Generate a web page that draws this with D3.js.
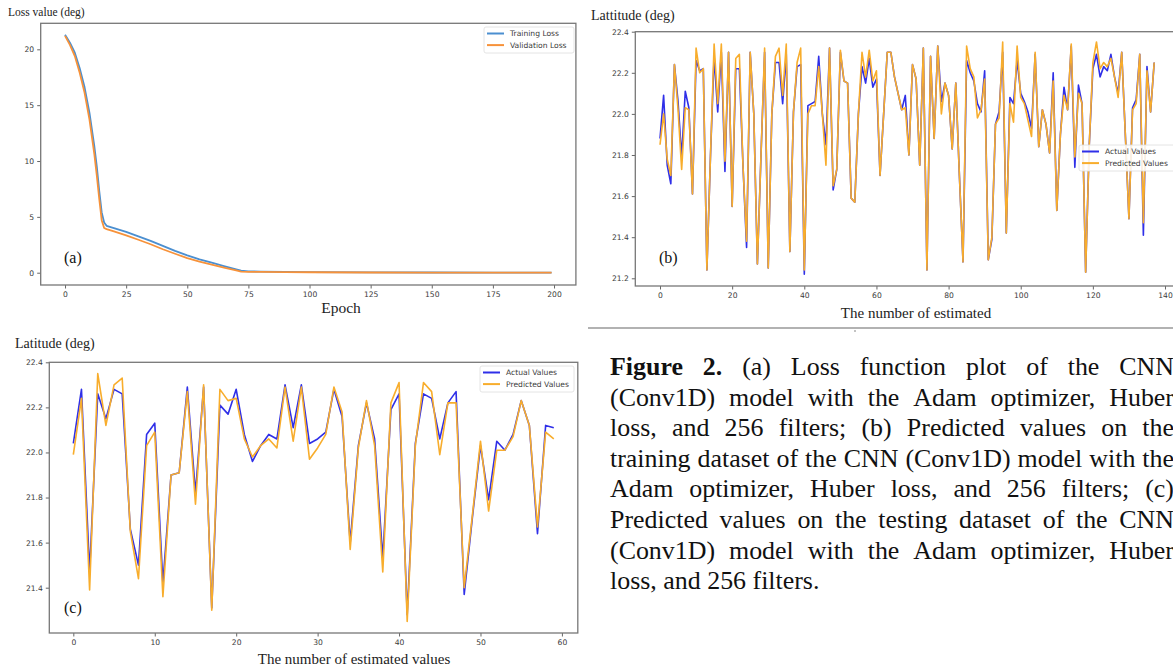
<!DOCTYPE html>
<html><head><meta charset="utf-8">
<script src="https://cdn.jsdelivr.net/npm/d3@7"></script>
<style>body{margin:0;background:#fff;} svg{display:block;}</style>
</head><body><svg id="c" width="1173" height="668"></svg>
<script>
// ---------- DATA ----------
// Panel (a): loss curves (epochs)
const lossEpochs = [0,2,4,6,8,10,12,13,14,15,16,17,20,25,30,35,40,45,50,55,60,65,70,72,75,80,90,100,125,150,175,199];
const trainLoss  = [21.3,20.6,19.7,18.3,16.6,14.3,11.3,9.5,7.3,5.4,4.5,4.2,4.0,3.65,3.25,2.85,2.4,1.95,1.55,1.2,0.9,0.6,0.3,0.18,0.12,0.1,0.08,0.05,0.03,0.02,0.01,0.01];
const valLoss    = [21.2,20.4,19.4,17.9,16.1,13.7,10.6,8.7,6.6,4.7,4.0,3.9,3.7,3.35,2.95,2.55,2.1,1.7,1.3,1.0,0.72,0.45,0.2,0.1,0.08,0.07,0.05,0.04,0.02,0.01,0.01,0.0];
const aXTicks = [0,25,50,75,100,125,150,175,200];
const aYTicks = [0,5,10,15,20];

// Panel (b): training set, actual vs predicted latitude
const bActual = [21.88,22.09,21.75,21.66,22.24,22.06,21.79,22.11,22.03,21.61,22.26,22.21,22.22,21.24,21.80,22.28,22.01,22.30,21.72,22.30,21.55,22.22,22.22,21.75,21.35,22.30,22.00,21.27,21.80,22.30,21.25,22.00,22.25,22.25,22.05,22.29,21.33,22.01,22.23,22.24,21.22,22.04,22.05,22.06,22.28,22.00,21.85,22.32,21.63,21.73,22.30,22.16,22.15,21.59,21.57,22.00,22.23,22.15,22.27,22.13,22.17,21.70,22.00,22.30,22.30,22.18,22.10,22.02,22.09,21.80,22.24,22.17,21.75,22.32,21.24,22.28,21.88,22.33,22.06,22.15,22.09,21.83,22.15,21.70,21.28,22.26,22.20,22.16,22.05,22.01,22.21,21.29,21.39,21.95,22.01,22.30,21.42,22.08,22.05,22.26,22.10,22.06,22.01,21.93,22.29,21.84,22.02,21.95,21.81,22.20,21.53,21.90,22.13,22.02,22.33,21.74,22.14,22.05,21.23,21.85,22.22,22.29,22.18,22.23,22.21,22.29,22.18,22.10,22.30,21.90,21.49,22.03,22.07,22.29,21.41,22.23,22.01,22.25];
const bPred   = [21.85,22.00,21.78,21.70,22.24,22.02,21.73,22.03,22.02,21.61,22.32,22.20,22.22,21.24,21.80,22.34,22.05,22.34,21.77,22.30,21.55,22.27,22.29,21.75,21.38,22.30,22.00,21.27,21.80,22.32,21.25,22.00,22.28,22.32,22.09,22.34,21.33,22.01,22.25,22.32,21.24,22.00,22.04,22.04,22.23,22.00,21.75,22.32,21.65,21.73,22.31,22.16,22.15,21.59,21.57,22.00,22.30,22.18,22.31,22.16,22.21,21.70,22.00,22.30,22.30,22.18,22.10,22.02,22.03,21.80,22.24,22.17,21.75,22.32,21.24,22.28,21.88,22.33,22.00,22.15,22.09,21.83,22.15,21.70,21.28,22.33,22.22,22.18,21.98,22.02,22.17,21.29,21.40,21.95,21.98,22.35,21.42,22.05,21.96,22.33,22.08,22.05,21.97,21.89,22.30,21.84,22.02,21.95,21.81,22.16,21.53,21.90,22.09,22.02,22.34,21.79,22.10,22.05,21.23,21.85,22.25,22.35,22.22,22.25,22.23,22.27,22.18,22.08,22.30,21.90,21.49,22.02,22.05,22.29,21.47,22.21,22.01,22.25];
const bXTicks = [0,20,40,60,80,100,120,140];
const bYTicks = [21.2,21.4,21.6,21.8,22.0,22.2,22.4];

// Panel (c): testing set, actual vs predicted latitude
const cActual = [22.04,22.28,21.47,22.26,22.15,22.28,22.26,21.66,21.50,22.08,22.13,21.42,21.90,21.91,22.29,21.82,22.29,21.31,22.21,22.17,22.28,22.08,21.96,22.03,22.08,22.06,22.30,22.11,22.30,22.04,22.06,22.09,22.28,22.16,21.60,22.03,22.22,22.06,21.53,22.19,22.26,21.28,22.04,22.26,22.24,22.06,22.22,22.27,21.37,21.71,22.03,21.79,22.05,22.01,22.08,22.23,22.12,21.64,22.12,22.11];
const cPred   = [21.99,22.24,21.39,22.35,22.12,22.30,22.33,21.65,21.44,22.03,22.09,21.36,21.90,21.91,22.27,21.77,22.30,21.30,22.28,22.23,22.24,22.06,21.98,22.03,22.06,22.02,22.29,22.05,22.29,21.97,22.02,22.08,22.29,22.18,21.57,22.02,22.23,22.03,21.47,22.22,22.31,21.25,22.03,22.31,22.27,21.99,22.22,22.22,21.40,21.72,22.05,21.74,22.01,22.01,22.07,22.23,22.12,21.67,22.09,22.06];
const cXTicks = [0,10,20,30,40,50,60];
const cYTicks = [21.4,21.6,21.8,22.0,22.2,22.4];

const captionLines = [
  "Figure 2. (a) Loss function plot of the CNN",
  "(Conv1D) model with the Adam optimizer, Huber",
  "loss, and 256 filters; (b) Predicted values on the",
  "training dataset of the CNN (Conv1D) model with the",
  "Adam optimizer, Huber loss, and 256 filters; (c)",
  "Predicted values on the testing dataset of the CNN",
  "(Conv1D) model with the Adam optimizer, Huber",
  "loss, and 256 filters."
];

// ---------- DRAWING ----------
const svg = d3.select("#c");
const SERIF = "'Liberation Serif','Times New Roman',serif";
const SANS = "'DejaVu Sans',sans-serif";

function panel(p) {
  const x = d3.scaleLinear().domain(p.xDomain).range([p.left, p.right]);
  const y = d3.scaleLinear().domain(p.yDomain).range([p.bottom, p.top]);
  const g = svg.append("g");
  const styleAxis = sel => {
    sel.select(".domain").remove();
    sel.selectAll("line").attr("stroke", "#555").attr("stroke-width", 0.9);
    sel.selectAll("text").attr("font-family", SANS).attr("font-size", 7.6).attr("fill", "#3a3a3a");
  };
  g.append("g").attr("transform", `translate(0,${p.bottom})`)
    .call(d3.axisBottom(x).tickValues(p.xTicks).tickSize(3.5).tickPadding(3).tickFormat(d3.format("d")))
    .call(styleAxis);
  g.append("g").attr("transform", `translate(${p.left},0)`)
    .call(d3.axisLeft(y).tickValues(p.yTicks).tickSize(3.5).tickPadding(3).tickFormat(p.yFmt))
    .call(styleAxis);
  g.append("rect").attr("x", p.left).attr("y", p.top)
    .attr("width", p.right - p.left).attr("height", p.bottom - p.top)
    .attr("fill", "none").attr("stroke", "#777").attr("stroke-width", 1.3);
  p.series.forEach(s => {
    g.append("path").datum(s.values)
      .attr("fill", "none").attr("stroke", s.color).attr("stroke-width", s.width)
      .attr("stroke-linejoin", "round")
      .attr("d", d3.line().x((d, i) => x(s.xs[i])).y(d => y(d)));
  });
  // legend
  const L = p.legend;
  const lg = g.append("g");
  lg.append("rect").attr("x", L.x).attr("y", L.y).attr("width", L.w).attr("height", L.h)
    .attr("rx", 2).attr("fill", "#fff").attr("fill-opacity", 0.85).attr("stroke", "#ddd").attr("stroke-width", 0.8);
  p.series.forEach((s, i) => {
    const yy = L.y + 6.5 + i * 11.6;
    lg.append("line").attr("x1", L.x + 3).attr("x2", L.x + 20).attr("y1", yy).attr("y2", yy)
      .attr("stroke", s.color).attr("stroke-width", 2);
    lg.append("text").attr("x", L.x + 26).attr("y", yy + 2.8).text(s.name)
      .attr("font-family", SANS).attr("font-size", 7.6).attr("fill", "#3a3a3a");
  });
  // panel letter
  g.append("text").attr("x", p.tag[0]).attr("y", p.tag[1]).text(p.tag[2])
    .attr("font-family", SERIF).attr("font-size", 16).attr("fill", "#111");
  // y title
  g.append("text").attr("x", p.ytitle[0]).attr("y", p.ytitle[1]).text(p.ytitle[2])
    .attr("font-family", SERIF).attr("font-size", p.ytitle[3]).attr("fill", "#222");
  // x title
  g.append("text").attr("x", p.xtitle[0]).attr("y", p.xtitle[1]).text(p.xtitle[2])
    .attr("font-family", SERIF).attr("font-size", p.xtitle[3]).attr("fill", "#222")
    .attr("text-anchor", "middle");
}

const idx = n => d3.range(n);

panel({
  left: 40.7, right: 575.9, top: 23.3, bottom: 285,
  xDomain: [-9.95, 208.95], yDomain: [-1.10, 22.33],
  xTicks: aXTicks, yTicks: aYTicks, yFmt: d3.format("d"),
  series: [
    {name: "Training Loss", xs: lossEpochs, values: trainLoss, color: "#4b8fd0", width: 1.8},
    {name: "Validation Loss", xs: lossEpochs, values: valLoss, color: "#f7923a", width: 1.8}
  ],
  legend: {x: 484, y: 27, w: 90, h: 26},
  tag: [64, 263, "(a)"],
  ytitle: [8, 16, "Loss value (deg)", 11.5],
  xtitle: [341, 313, "Epoch", 15.5]
});

panel({
  left: 635.3, right: 1178.9, top: 31.7, bottom: 286,
  xDomain: [-6.85, 143.85], yDomain: [21.1625, 22.4],
  xTicks: bXTicks, yTicks: bYTicks, yFmt: d3.format(".1f"),
  series: [
    {name: "Actual Values", xs: idx(bActual.length), values: bActual, color: "#2f2fe8", width: 1.6},
    {name: "Predicted Values", xs: idx(bPred.length), values: bPred, color: "#f8ad2c", width: 1.6}
  ],
  legend: {x: 1079, y: 145, w: 100, h: 26},
  tag: [659, 263, "(b)"],
  ytitle: [591, 20, "Lattitude (deg)", 14],
  xtitle: [916, 318, "The number of estimated", 15]
});

panel({
  left: 49.3, right: 577.8, top: 362.3, bottom: 633,
  xDomain: [-2.95, 61.95], yDomain: [21.199, 22.4],
  xTicks: cXTicks, yTicks: cYTicks, yFmt: d3.format(".1f"),
  series: [
    {name: "Actual Values", xs: idx(cActual.length), values: cActual, color: "#2f2fe8", width: 1.6},
    {name: "Predicted Values", xs: idx(cPred.length), values: cPred, color: "#f8ad2c", width: 1.6}
  ],
  legend: {x: 480, y: 366, w: 94, h: 26},
  tag: [64, 613, "(c)"],
  ytitle: [15, 348, "Latitude (deg)", 14],
  xtitle: [354, 664, "The number of estimated values", 15]
});

// separator line under panel (b)
svg.append("line").attr("x1", 588).attr("x2", 1173).attr("y1", 328).attr("y2", 328)
  .attr("stroke", "#999").attr("stroke-width", 1.5);
svg.append("circle").attr("cx", 855).attr("cy", 331).attr("r", 0.8).attr("fill", "#777");

// ---------- CAPTION (justified) ----------
const capLeft = 610, capRight = 1174;
const meas = svg.append("text").attr("font-family", SERIF).attr("x", -1000).attr("y", -1000);
function w(txt, size, bold) {
  meas.attr("font-size", size).attr("font-weight", bold ? "bold" : "normal").text(txt);
  return meas.node().getComputedTextLength();
}
// choose size so that the tightest line (line 4) fits its natural width
let fs = 20;
const natural = w(captionLines[3], fs, false);
fs = fs * 560 / natural;
const spaceW = w("a b", fs, false) - w("ab", fs, false);
const cap = svg.append("g");
captionLines.forEach((line, li) => {
  const words = line.split(" ");
  const bolds = words.map((wd, k) => li === 0 && k < 2);
  const widths = words.map((wd, k) => w(wd, fs, bolds[k]));
  const total = d3.sum(widths);
  const last = li === captionLines.length - 1;
  const gap = last ? spaceW : (capRight - capLeft - total) / (words.length - 1);
  let xx = capLeft;
  const yy = 375 + li * 30.6;
  words.forEach((wd, k) => {
    cap.append("text").attr("x", xx).attr("y", yy).text(wd)
      .attr("font-family", SERIF).attr("font-size", fs)
      .attr("font-weight", bolds[k] ? "bold" : "normal").attr("fill", "#111");
    xx += widths[k] + gap;
  });
});
meas.remove();
</script>
</body></html>
